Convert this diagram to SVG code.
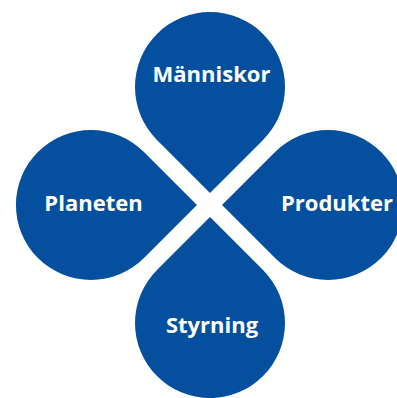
<svg xmlns="http://www.w3.org/2000/svg" width="397" height="398" viewBox="0 0 397 398">
<style>
.drop{fill:#04509f}
.lbl{fill:#ffffff;font-family:"Open Sans","Liberation Sans",sans-serif;font-weight:bold;font-size:22px;text-anchor:middle}
</style>
<defs>
<path id="tear" d="M0,0 L53.03,-53.03 A75,75 0 1 0 -53.03,-53.03 Z"/>
</defs>
<rect width="397" height="398" fill="#ffffff"/>
<g id="manniskor">
<use href="#tear" class="drop" transform="translate(210,193)"/>
<text class="lbl" x="211.5" y="82">Människor</text>
</g>
<g id="produkter">
<use href="#tear" class="drop" transform="translate(222,205) rotate(90)"/>
<text class="lbl" x="337" y="211">Produkter</text>
</g>
<g id="styrning">
<use href="#tear" class="drop" transform="translate(210,217) rotate(180)"/>
<text class="lbl" x="212" y="333">Styrning</text>
</g>
<g id="planeten">
<use href="#tear" class="drop" transform="translate(197,205) rotate(-90)"/>
<text class="lbl" x="93.5" y="211">Planeten</text>
</g>
</svg>
